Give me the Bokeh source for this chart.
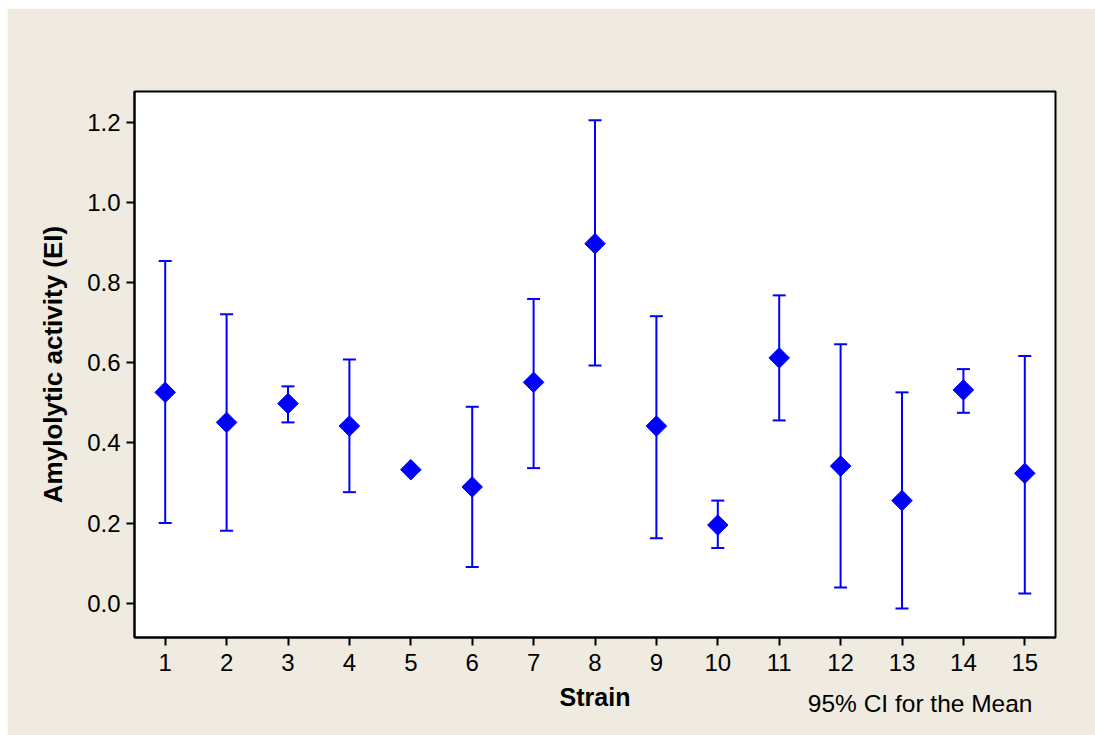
import math
from bokeh.plotting import figure
from bokeh.layouts import column, row
from bokeh.models import (ColumnDataSource, Whisker, TeeHead, FixedTicker, Range1d,
                          CustomJSTickFormatter, Spacer, Title)
from bokeh.embed import file_html
from bokeh.resources import INLINE

strains = [1, 2, 3, 4, 5, 6, 7, 8, 9, 10, 11, 12, 13, 14, 15]
means = [0.526, 0.451, 0.498, 0.442, 0.333, 0.290, 0.551, 0.897, 0.442, 0.195, 0.612, 0.342, 0.256, 0.532, 0.324]
lower = [0.200, 0.181, 0.451, 0.277, 0.333, 0.090, 0.337, 0.593, 0.162, 0.138, 0.456, 0.039, -0.013, 0.475, 0.024]
upper = [0.854, 0.721, 0.541, 0.608, 0.333, 0.490, 0.759, 1.205, 0.716, 0.256, 0.768, 0.646, 0.526, 0.584, 0.617]
y_ticks = [0.0, 0.2, 0.4, 0.6, 0.8, 1.0, 1.2]
note_text = "95% CI for the Mean"

BLUE = "#0000FF"
BG = "#EFEBE1"
FONT = "Liberation Sans"

W, H = 1088, 727
p = figure(width=W, height=H, output_backend="svg", toolbar_location=None,
           x_range=Range1d(0.5, 15.5), y_range=Range1d(-0.0856, 1.2766),
           min_border_left=127, min_border_right=40, min_border_top=83, min_border_bottom=98)
p.border_fill_color = BG
p.background_fill_color = "white"
p.outline_line_color = "black"
p.outline_line_width = 2
p.xgrid.visible = False
p.ygrid.visible = False

# error bars (strain 5 has none)
keep = [i for i in range(len(strains)) if upper[i] > lower[i]]
eb_src = ColumnDataSource(dict(x=[strains[i] for i in keep],
                               lower=[lower[i] for i in keep],
                               upper=[upper[i] for i in keep]))
wh = Whisker(base="x", lower="lower", upper="upper", source=eb_src, dimension="height",
             line_color=BLUE, line_width=2, level="underlay",
             upper_head=TeeHead(size=13, line_color=BLUE, line_width=2),
             lower_head=TeeHead(size=13, line_color=BLUE, line_width=2))
p.add_layout(wh)

src = ColumnDataSource(dict(x=strains, y=means))
p.scatter("x", "y", source=src, marker="square", angle=math.pi / 4, size=14.5,
          fill_color=BLUE, line_color=BLUE, line_width=1)

for ax in (p.xaxis[0], p.yaxis[0]):
    ax.axis_line_color = "black"
    ax.axis_line_width = 2
    ax.major_tick_line_color = "black"
    ax.major_tick_line_width = 2
    ax.major_tick_in = 0
    ax.major_tick_out = 8
    ax.minor_tick_line_color = None
    ax.major_label_text_font = FONT
    ax.major_label_text_font_size = "24px"
    ax.major_label_text_color = "black"
    ax.axis_label_text_font = FONT
    ax.axis_label_text_font_style = "bold"
    ax.axis_label_text_color = "black"

p.xaxis.ticker = FixedTicker(ticks=strains)
p.xaxis.axis_label = "Strain"
p.xaxis.axis_label_text_font_size = "25px"
p.xaxis.major_label_standoff = 8
p.xaxis.axis_label_standoff = 9

p.yaxis.ticker = FixedTicker(ticks=y_ticks)
p.yaxis.formatter = CustomJSTickFormatter(code="return tick.toFixed(1);")
p.yaxis.axis_label = "Amylolytic activity (EI)"
p.yaxis.axis_label_text_font_size = "26px"
p.yaxis.major_label_standoff = 6
p.yaxis.axis_label_standoff = 16

# note text, right-aligned below the axis, on the line of the axis title
note = Title(text=note_text, align="right", vertical_align="top", offset=23, standoff=-48,
             text_font=FONT, text_font_size="24.5px", text_font_style="normal",
             text_color="black")
p.add_layout(note, "below")

layout = column(Spacer(height=8, width=W + 7), row(Spacer(width=7, height=H), p))
open("out.html", "w").write(file_html(layout, INLINE))
